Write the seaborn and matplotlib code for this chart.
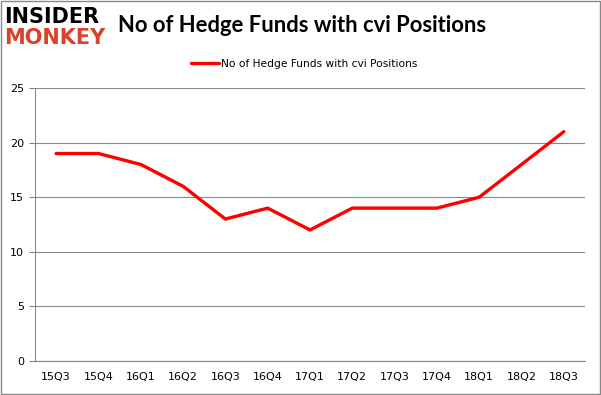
import numpy as np
import pandas as pd
import seaborn as sns
import matplotlib.pyplot as plt
from matplotlib.patches import Rectangle

quarters = ['15Q3', '15Q4', '16Q1', '16Q2', '16Q3', '16Q4', '17Q1',
            '17Q2', '17Q3', '17Q4', '18Q1', '18Q2', '18Q3']
funds = [19, 19, 18, 16, 13, 14, 12, 14, 14, 14, 15, 18, 21]
yticks = [0, 5, 10, 15, 20, 25]

sns.set_style('white')
plt.rcParams['font.family'] = ['DejaVu Sans']
plt.rcParams['text.color'] = 'black'
plt.rcParams['xtick.color'] = 'black'
plt.rcParams['ytick.color'] = 'black'

df = pd.DataFrame({'pos': np.arange(len(quarters)), 'funds': funds})

fig = plt.figure(figsize=(6.01, 3.95), dpi=100)
ax = fig.add_axes([35 / 601, 34 / 395, 550 / 601, 273 / 395])

sns.lineplot(data=df, x='pos', y='funds', ax=ax, color='#ff0000', linewidth=2.4,
             label='No of Hedge Funds with cvi Positions', legend=False)

ax.set_xlim(-0.5, len(quarters) - 0.5)
ax.set_ylim(0, 25)
ax.set_yticks(yticks)
ax.set_yticklabels([str(v) for v in yticks], fontsize=8)
ax.set_xticks(df['pos'])
ax.set_xticklabels(quarters, fontsize=8)
ax.set_xticks(np.arange(-0.5, len(quarters)), minor=True)
ax.tick_params(axis='x', which='major', length=0, pad=8)
ax.tick_params(axis='x', which='minor', length=4, color='#888888', direction='out')
ax.tick_params(axis='y', length=4, color='#888888', labelcolor='black',
               direction='out', left=True, pad=4)
ax.grid(axis='y', color='#888888', linewidth=0.8)
ax.set_axisbelow(True)
ax.set_xlabel('')
ax.set_ylabel('')
for side in ['top', 'right']:
    ax.spines[side].set_visible(False)
for side in ['left', 'bottom']:
    ax.spines[side].set_color('#888888')
    ax.spines[side].set_linewidth(0.8)

# legend at top centre
ax.legend(loc='lower center', bbox_to_anchor=(0.49, 1.035), frameon=False,
          fontsize=7.7, handlelength=2.6, handletextpad=0.2)

# title and logo
fig.text(118 / 601, 1 - 25 / 395, 'No of Hedge Funds with cvi Positions',
         fontsize=15.8, fontweight='bold', family='Lato', va='center', ha='left')
fig.text(4 / 601, 1 - 17 / 395, 'INSIDER', fontsize=15, fontweight='bold',
         color='black', va='center', ha='left')
fig.text(4 / 601, 1 - 38 / 395, 'MONKEY', fontsize=15, fontweight='bold',
         color='#d9412b', va='center', ha='left')

# outer border
fig.patches.append(Rectangle((0.001, 0.002), 0.997, 0.995, transform=fig.transFigure,
                             fill=False, edgecolor='#888888', linewidth=1))

fig.savefig('out.png', dpi=100)
